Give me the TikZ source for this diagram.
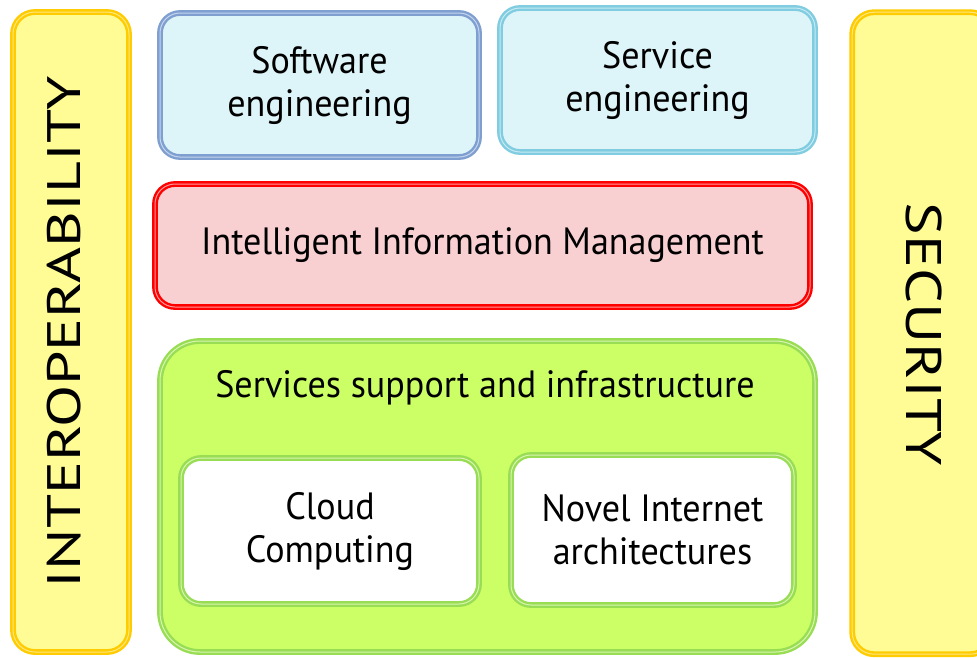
\documentclass[tikz,border=0pt]{standalone}
\usepackage{fontspec}
\setmainfont[FakeStretch=0.95]{PT Sans}
\newfontfamily\interopfont[FakeStretch=1.31]{PT Sans}
\newfontfamily\securityfont[FakeStretch=1.23]{PT Sans}
\definecolor{ylwfill}{HTML}{FFFC95}
\definecolor{ylwline}{HTML}{FFCC00}
\definecolor{ylwlight}{HTML}{FFE680}
\definecolor{cyanfill}{HTML}{DDF4F9}
\definecolor{blueline}{HTML}{7F9FD0}
\definecolor{bluelight}{HTML}{C5D5EE}
\definecolor{cyanline}{HTML}{80CCE0}
\definecolor{cyanlight}{HTML}{C8EAF3}
\definecolor{pinkfill}{HTML}{F8D0D2}
\definecolor{redline}{HTML}{FF0000}
\definecolor{redlight}{HTML}{FF9A9A}
\definecolor{greenfill}{HTML}{CCFF66}
\definecolor{greenline}{HTML}{99DD55}
\definecolor{greenlight}{HTML}{D8F5B0}
\tikzset{
  box/.style n args={4}{rectangle, rounded corners=#4, draw=#1, double=#2, double distance=1pt,
    line width=2.4pt, fill=#3, inner sep=0pt, align=center, text=black,
    font=\fontsize{38}{43}\selectfont},
}
\begin{document}
\begin{tikzpicture}[x=1pt,y=-1pt]
\clip (0,0) rectangle (977,657);
\fill[white] (0,0) rectangle (977,657);
\node[box={ylwline}{ylwlight}{ylwfill}{22pt}, minimum width=116, minimum height=640] (interop) at (71,332) {};
\node[font=\interopfont\fontsize{47}{50}\selectfont, rotate=90] (interoptext) at (64.5,332) {INTEROPERABILITY};
\node[box={ylwline}{ylwlight}{ylwfill}{22pt}, minimum width=140, minimum height=642, anchor=north west] (security) at (851,11) {};
\node[font=\securityfont\fontsize{50}{50}\selectfont, rotate=-90] (securitytext) at (924,334.5) {SECURITY};
\node[box={blueline}{bluelight}{cyanfill}{20pt}, minimum width=319, minimum height=144] (softeng) at (319.5,85) {Software\\engineering};
\node[box={cyanline}{cyanlight}{cyanfill}{20pt}, minimum width=315, minimum height=144] (serveng) at (657.5,80) {Service\\engineering};
\node[box={redline}{redlight}{pinkfill}{20pt}, minimum width=655, minimum height=123] (iim) at (482.5,245.5) {Intelligent Information Management};
\node[box={greenline}{greenlight}{greenfill}{40pt}, minimum width=655, minimum height=311] (green) at (487.5,496.5) {};
\node[font=\fontsize{38}{43}\selectfont] (greentext) at (485,388) {Services support and infrastructure};
\node[box={greenline}{greenlight}{white}{20pt}, minimum width=298, minimum height=146] (cloud) at (330,531) {Cloud\\Computing};
\node[box={greenline}{greenlight}{white}{20pt}, minimum width=283, minimum height=150] (novel) at (652.5,530) {Novel Internet\\architectures};
\end{tikzpicture}
\end{document}
